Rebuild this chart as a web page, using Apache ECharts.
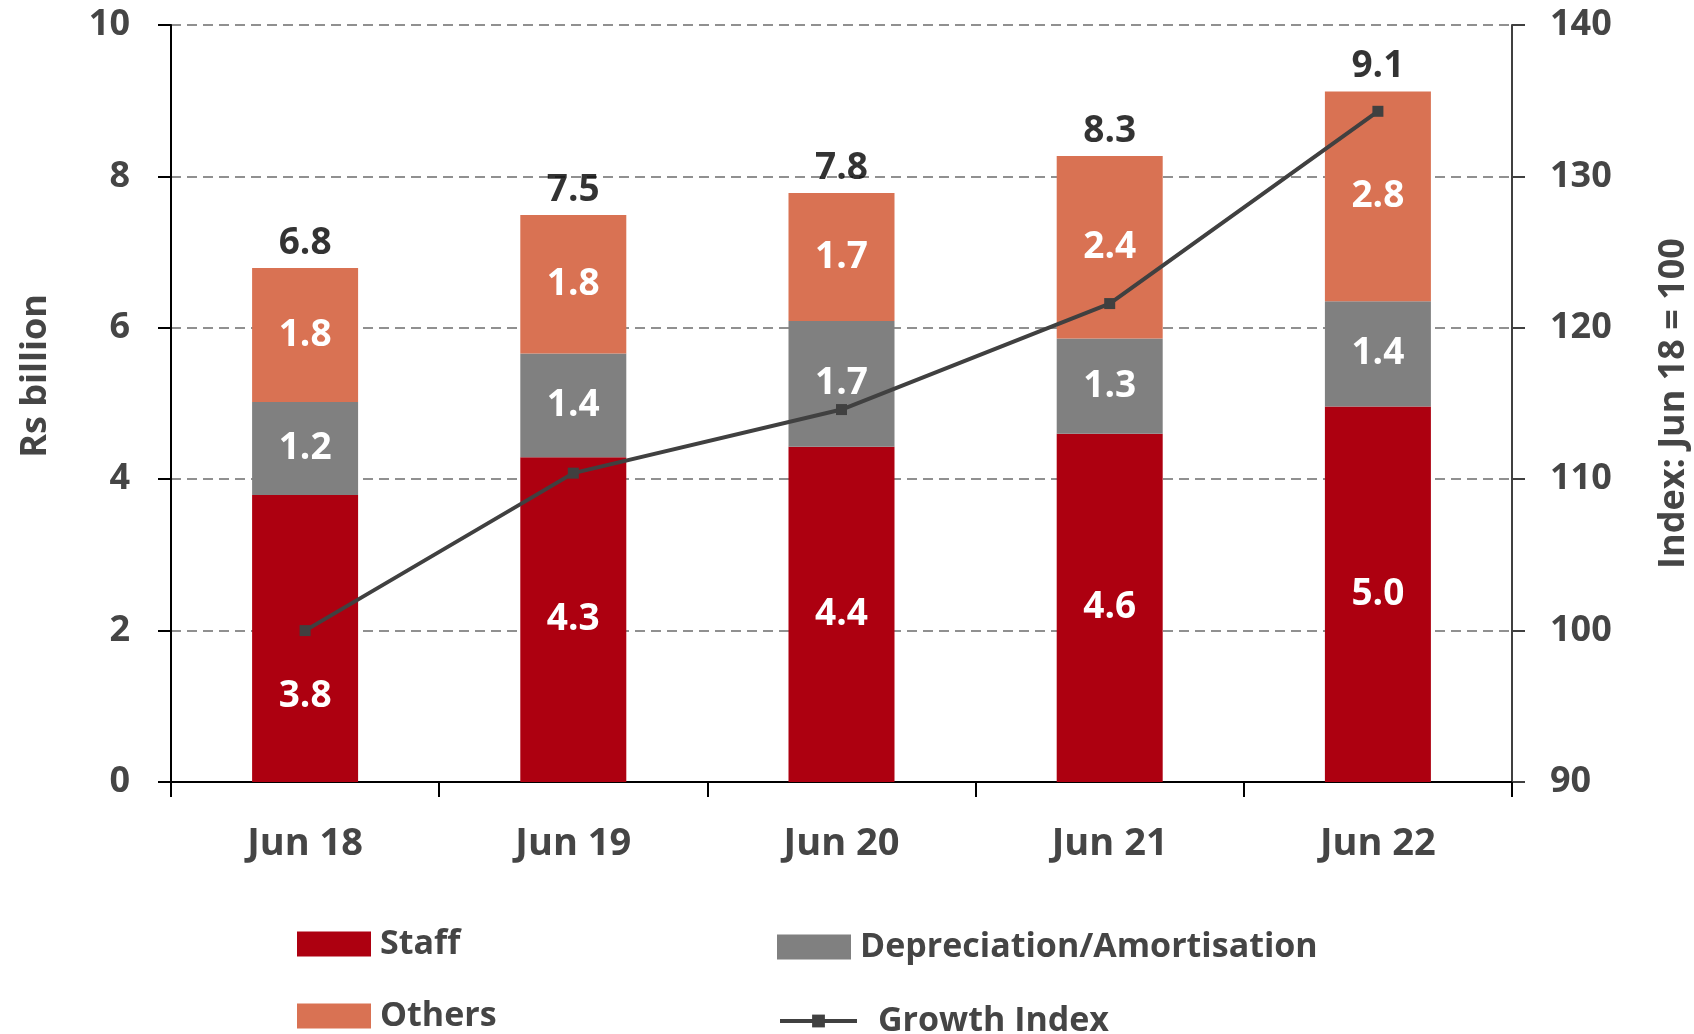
<!DOCTYPE html>
<html>
<head>
<meta charset="utf-8">
<script src="https://cdn.jsdelivr.net/npm/echarts@6/dist/echarts.min.js"></script>
<style>
  html, body { margin: 0; padding: 0; background: #fff; }
  #chart { width: 1694px; height: 1034px; }
</style>
</head>
<body>
<div id="chart"></div>
<script>
const categories = ['Jun 18', 'Jun 19', 'Jun 20', 'Jun 21', 'Jun 22'];
const staff = [3.79, 4.29, 4.43, 4.60, 4.96];
const depreciation = [1.23, 1.37, 1.66, 1.26, 1.39];
const others = [1.77, 1.83, 1.69, 2.41, 2.77];
const growthIndex = [100, 110.4, 114.6, 121.6, 134.3];
const leftTicks = [0, 10, 2];
const rightTicks = [90, 140, 10];

const totals = staff.map((v, i) => v + depreciation[i] + others[i]);

const FONT = '"Open Sans", "Noto Sans", sans-serif';
const GREY = '#454545';

const myChart = echarts.init(document.getElementById('chart'));

// white in-bar labels, one decimal
function innerLabel() {
  return {
    show: true,
    position: 'inside',
    color: '#fff',
    fontFamily: FONT,
    fontWeight: 'bold',
    fontSize: 37,
    formatter: p => p.value.toFixed(1)
  };
}

// first staff label sits lower so the line point does not cover it
const staffData = staff.map((v, i) => i === 0 ? { value: v, label: { offset: [0, 58] } } : v);

function legendBox(name, left, top) {
  return {
    data: [{ name: name, icon: 'rect' }],
    left: left,
    top: top,
    orient: 'horizontal',
    itemWidth: 74,
    itemHeight: 25,
    selectedMode: false,
    textStyle: {
      color: GREY,
      fontFamily: FONT,
      fontWeight: 'bold',
      fontSize: 34,
      padding: [0, 0, 0, 4]
    }
  };
}

const option = {
  animation: false,
  grid: { left: 171, right: 182, top: 25, bottom: 252, outerBoundsMode: 'none', containLabel: false },
  legend: [
    legendBox('Staff', 292, 922),
    legendBox('Depreciation/Amortisation', 772, 925),
    legendBox('Others', 292, 994),
    {
      data: ['Growth Index'],
      left: 773,
      top: 999,
      itemWidth: 77,
      itemHeight: 16,
      selectedMode: false,
      lineStyle: { width: 4 },
      textStyle: { color: GREY, fontFamily: FONT, fontWeight: 'bold', fontSize: 34, padding: [0, 0, 0, 16] }
    }
  ],
  xAxis: {
    type: 'category',
    data: categories,
    axisLine: { lineStyle: { color: '#000', width: 2 } },
    axisTick: { show: true, length: 15, lineStyle: { color: '#000', width: 2 } },
    axisLabel: {
      color: GREY,
      fontFamily: FONT,
      fontWeight: 'bold',
      fontSize: 38,
      margin: 43
    }
  },
  yAxis: [
    {
      type: 'value',
      min: leftTicks[0],
      max: leftTicks[1],
      interval: leftTicks[2],
      name: 'Rs billion',
      nameLocation: 'middle',
      nameRotate: 90,
      nameGap: 117,
      nameTextStyle: {
        color: GREY, fontFamily: FONT, fontWeight: 'bold', fontSize: 36,
        padding: [0, 0, 0, 55]
      },
      axisLine: { show: true, lineStyle: { color: '#000', width: 2 } },
      axisTick: { show: true, length: 13, lineStyle: { color: '#000', width: 2 } },
      axisLabel: {
        color: GREY, fontFamily: FONT, fontWeight: 'bold', fontSize: 36, margin: 41
      },
      splitLine: { lineStyle: { color: '#909090', width: 2, type: [10, 6] } }
    },
    {
      type: 'value',
      min: rightTicks[0],
      max: rightTicks[1],
      interval: rightTicks[2],
      name: 'Index: Jun 18 = 100',
      nameLocation: 'middle',
      nameRotate: 90,
      nameGap: 144,
      nameTextStyle: {
        color: GREY, fontFamily: FONT, fontWeight: 'bold', fontSize: 36
      },
      axisLine: { show: true, lineStyle: { color: '#404040', width: 2 } },
      axisTick: { show: true, length: 13, lineStyle: { color: '#404040', width: 2 } },
      axisLabel: {
        color: GREY, fontFamily: FONT, fontWeight: 'bold', fontSize: 36, margin: 38
      },
      splitLine: { show: false }
    }
  ],
  series: [
    {
      name: 'Staff',
      type: 'bar',
      stack: 'cost',
      barWidth: 106,
      data: staffData,
      itemStyle: { color: '#ad0010' },
      label: innerLabel()
    },
    {
      name: 'Depreciation/Amortisation',
      type: 'bar',
      stack: 'cost',
      barWidth: 106,
      data: depreciation,
      itemStyle: { color: '#808080' },
      label: innerLabel()
    },
    {
      name: 'Others',
      type: 'bar',
      stack: 'cost',
      barWidth: 106,
      data: others,
      itemStyle: { color: '#d97253' },
      label: innerLabel()
    },
    {
      name: 'Total',
      type: 'scatter',
      data: totals,
      symbolSize: 1,
      itemStyle: { color: 'rgba(0,0,0,0)' },
      silent: true,
      label: {
        show: true,
        position: 'top',
        distance: 6,
        color: '#000',
        fontFamily: FONT,
        fontWeight: 'bold',
        fontSize: 37,
        formatter: p => p.value.toFixed(1)
      },
      z: 5
    },
    {
      name: 'Growth Index',
      type: 'line',
      yAxisIndex: 1,
      data: growthIndex,
      symbol: 'rect',
      symbolSize: 11,
      lineStyle: { color: '#404040', width: 4 },
      itemStyle: { color: '#404040' },
      z: 4
    }
  ]
};
myChart.setOption(option);
</script>
</body>
</html>
